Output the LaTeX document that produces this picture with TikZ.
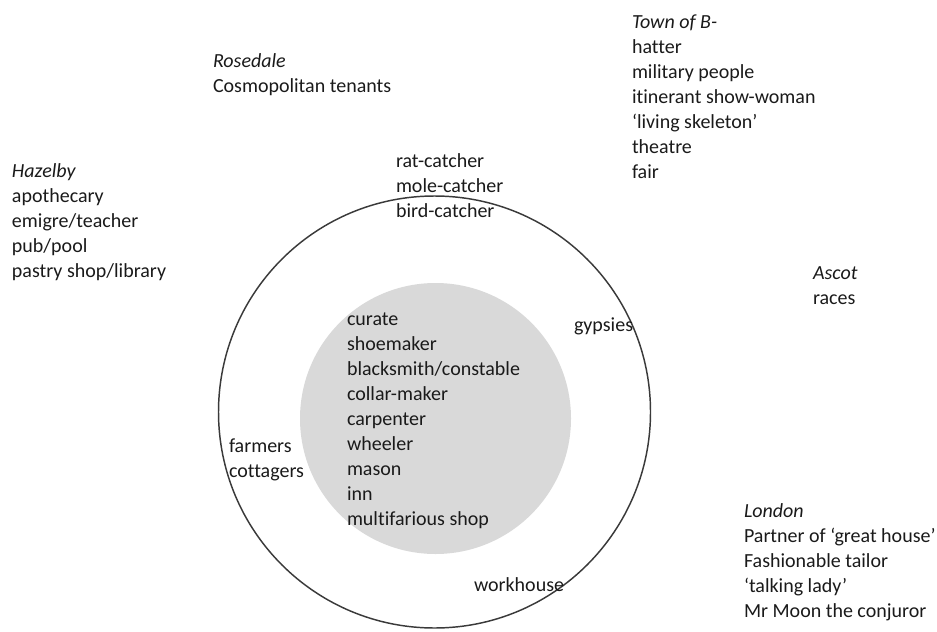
\documentclass[tikz,border=0pt]{standalone}
\usepackage{fontspec}
\setmainfont{Carlito}[Ligatures=NoCommon]
\definecolor{txt}{HTML}{1A1A1A}
\definecolor{ring}{HTML}{3A3A3A}
\definecolor{core}{HTML}{D9D9D9}
\begin{document}
\begin{tikzpicture}[x=0.75pt,y=-0.75pt,
  lbl/.style={anchor=base west,inner sep=0pt,outer sep=0pt,align=left,text=txt,
    font=\fontsize{15}{18.8}\selectfont}]
\useasboundingbox (0,0) rectangle (937,631);
% circles
\fill[core] (435.5,418.5) circle[radius=135.5];
\draw[ring,line width=1.1pt] (434.5,412) circle[radius=216];
% labels (anchored at the baseline of the last line)
\node[lbl] (rosedale) at (213,92.1) {\textit{Rosedale}\\Cosmopolitan tenants};
\node[lbl] (townb) at (632,178.6) {\textit{Town of B-}\\hatter\\military people\\itinerant show-woman\\‘living skeleton’\\theatre\\fair};
\node[lbl] (hazelby) at (12,277.4) {\textit{Hazelby}\\apothecary\\emigre/teacher\\pub/pool\\pastry shop/library};
\node[lbl] (catchers) at (396,217.2) {rat-catcher\\mole-catcher\\bird-catcher};
\node[lbl] (ascot) at (813,304.1) {\textit{Ascot}\\races};
\node[lbl] (gypsies) at (574,331) {gypsies};
\node[lbl] (core) at (347,525.8) {curate\\shoemaker\\blacksmith/constable\\collar-maker\\carpenter\\wheeler\\mason\\inn\\multifarious shop};
\node[lbl] (farmers) at (229,477.1) {farmers\\cottagers};
\node[lbl] (workhouse) at (474,591) {workhouse};
\node[lbl] (london) at (744,617.4) {\textit{London}\\Partner of ‘great house’\\Fashionable tailor\\‘talking lady’\\Mr Moon the conjuror};
\end{tikzpicture}
\end{document}
